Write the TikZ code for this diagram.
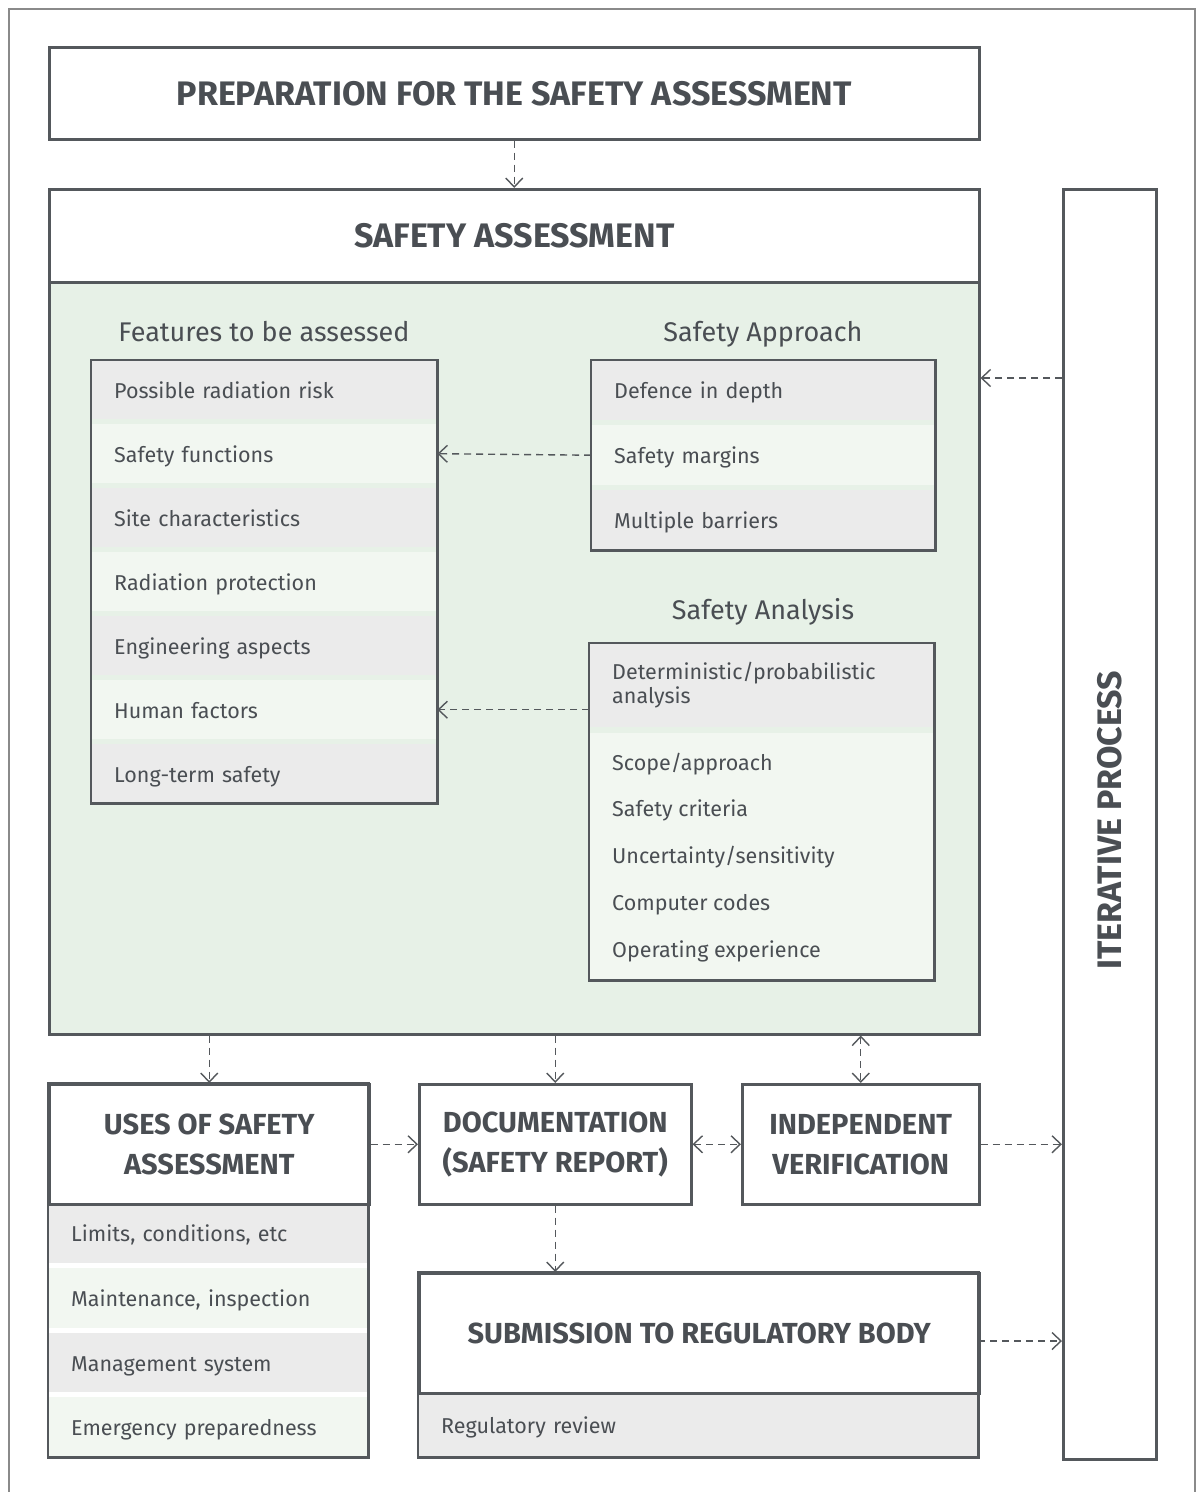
\documentclass[tikz,border=0pt]{standalone}
\usepackage{fontspec}
\setmainfont{Fira Sans}
\usetikzlibrary{arrows.meta,positioning}

\definecolor{linegray}{HTML}{54585C}
\definecolor{txtgray}{HTML}{4A4E53}
\definecolor{framegray}{HTML}{8A8A8A}
\definecolor{rowgray}{HTML}{EBEBEB}
\definecolor{rowgreen}{HTML}{F2F7F1}
\definecolor{areagreen}{HTML}{E7F1E7}

\tikzset{
  box/.style={draw=linegray, line width=2.5pt, fill=white, inner sep=0pt, anchor=north west, text=txtgray},
  bigtitle/.style={font=\bfseries\fontsize{34}{40}\selectfont, text=txtgray, align=center},
  title/.style={font=\bfseries\fontsize{29}{40}\selectfont, text=txtgray, align=center},
  subhead/.style={font=\fontsize{27}{32}\selectfont, text=txtgray},
  item/.style={font=\fontsize{21.5}{24}\selectfont, text=txtgray},
  row/.style={item, fill=#1, inner xsep=23pt, inner ysep=0pt, anchor=north west, align=left},
  onerow/.style={row=#1, text height=20, text depth=3},
  flow/.style={draw=linegray, line width=1.4pt, dash pattern=on 7pt off 5pt, -{Straight Barb[length=9pt,width=17pt,line width=1.4pt]}},
  flowboth/.style={flow, {Straight Barb[length=9pt,width=17pt,line width=1.4pt]}-{Straight Barb[length=9pt,width=17pt,line width=1.4pt]}}
}

\begin{document}
\begin{tikzpicture}[x = 1pt, y = -1pt]
\useasboundingbox (0,0) rectangle (1197,1492);
% outer frame, open at the bottom
\draw[framegray, line width=2pt] (9,1492) -- (9,9) -- (1195,9) -- (1195,1492);

% Preparation
\node[box, minimum width=930, minimum height=92] (prep) at (48,46) {};
\node[bigtitle] (preptxt) at (prep.center) {PREPARATION FOR THE SAFETY ASSESSMENT};

% Safety assessment
\node[box, minimum width=930, minimum height=93] (sa) at (48,188) {};
\node[bigtitle] (satxt) at (sa.center) {SAFETY ASSESSMENT};
\node[box, fill=areagreen, minimum width=930, minimum height=752] (sagreen) at (48,281) {};

% Features to be assessed
\node[subhead] (fahead) at (264,332) {Features to be assessed};
\foreach \txt/\col [count=\i] in {Possible radiation risk/rowgray, Safety functions/rowgreen,
    Site characteristics/rowgray, Radiation protection/rowgreen, Engineering aspects/rowgray,
    Human factors/rowgreen, Long-term safety/rowgray}
  \node[onerow=\col, text width=300, minimum height=59] (fa\i) at (91, {360+(\i-1)*64}) {\txt};
\draw[linegray, line width=2.5pt] (fa1.north west) rectangle (fa7.south east);

% Safety approach
\node[subhead] (aphead) at (763,334) {Safety Approach};
\foreach \txt/\col [count=\i] in {Defence in depth/rowgray, Safety margins/rowgreen,
    Multiple barriers/rowgray}
  \node[onerow=\col, text width=298, minimum height=60] (ap\i) at (591, {360+(\i-1)*65}) {\txt};
\draw[linegray, line width=2.5pt] (ap1.north west) rectangle (ap3.south east);

% Safety analysis
\node[subhead] (anhead) at (763,612) {Safety Analysis};
\node[row=rowgray, text width=299, minimum height=84] (an0) at (589,643) {Deterministic/probabilistic\\analysis};
\node[row=rowgreen, text width=299, minimum height=247] (anbody) at (589,733) {};
\foreach \txt [count=\i] in {Scope/approach, Safety criteria, Uncertainty/sensitivity,
    Computer codes, Operating experience}
  \node[item, anchor=west, inner sep=0pt] (an\i) at (612, {764+(\i-1)*46.75}) {\txt};
\draw[linegray, line width=2.5pt] (an0.north west) rectangle (anbody.south east);

% Iterative process
\node[box, minimum width=93, minimum height=1270] (iter) at (1062,188) {};
\node[bigtitle, rotate=90] (itertxt) at ([yshift=4]iter.center) {ITERATIVE PROCESS};

% Lower row
\foreach \txt/\col [count=\i] in {{Limits, conditions, etc}/rowgray, {Maintenance, inspection}/rowgreen,
    Management system/rowgray, Emergency preparedness/rowgreen}
  \node[onerow=\col, text width=274, minimum height=59.75] (us\i) at (48, {1203+(\i-1)*64.75}) {\txt};
\node[box, minimum width=320, minimum height=120] (uses) at (48,1083) {};
\node[title] (usestxt) at (uses.center) {USES OF SAFETY\\ASSESSMENT};
\draw[linegray, line width=2.5pt] (uses.north west) rectangle (us4.south east);

\node[box, minimum width=272, minimum height=120] (doc) at (418,1083) {};
\node[title] (doctxt) at (doc.center) {DOCUMENTATION\\(SAFETY REPORT)};
\node[box, minimum width=237, minimum height=120] (indep) at (741,1083) {};
\node[title] (indeptxt) at (indep.center) {INDEPENDENT\\VERIFICATION};

% Submission
\node[onerow=rowgray, text width=514, minimum height=65] (rev) at (418,1392) {Regulatory review};
\node[box, minimum width=560, minimum height=120] (sub) at (418,1272) {};
\node[title] (subtxt) at (sub.center) {SUBMISSION TO REGULATORY BODY};
\draw[linegray, line width=2.5pt] (sub.north west) rectangle (rev.south east);

% Connectors
\coordinate (itin) at (1062,378);
\coordinate (subout) at (978,1341);
\draw[flow] (prep.south) -- (sa.north);
\draw[flow] (ap2.west) -- (fa2.east);
\draw[flow] (fa6.east -| an0.west) -- (fa6.east);
\draw[flow] (itin) -- (itin -| sagreen.east);
\draw[flow] (sagreen.south -| uses.north) -- (uses.north);
\draw[flow] (sagreen.south -| doc.north) -- (doc.north);
\draw[flowboth] (sagreen.south -| indep.north) -- (indep.north);
\draw[flow] (uses.east) -- (doc.west);
\draw[flowboth] (doc.east) -- (indep.west);
\draw[flow] (indep.east) -- (indep.east -| iter.west);
\draw[flow] (doc.south) -- (doc.south |- sub.north);
\draw[flow] (subout) -- (subout -| iter.west);
\end{tikzpicture}
\end{document}
